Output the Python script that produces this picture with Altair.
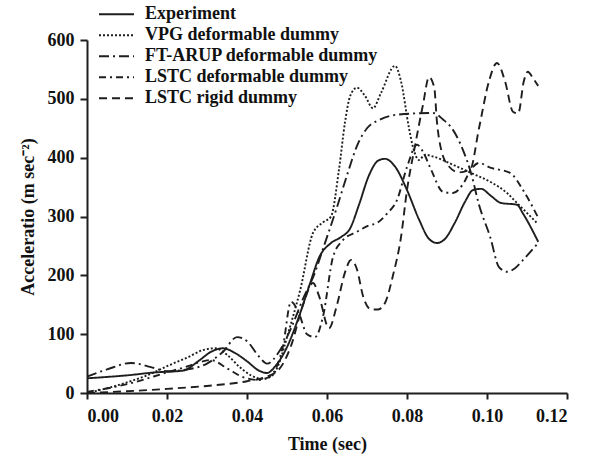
import altair as alt
import pandas as pd

names = ["Experiment", "VPG deformable dummy", "FT-ARUP deformable dummy",
         "LSTC deformable dummy", "LSTC rigid dummy"]

exp_t = [0, 0.01, 0.017, 0.024, 0.028, 0.031, 0.034, 0.037, 0.040, 0.043, 0.045, 0.047, 0.05,
         0.053, 0.0558, 0.058, 0.061, 0.0635, 0.0658, 0.068, 0.0705, 0.0728, 0.0745, 0.077,
         0.08, 0.083, 0.0855, 0.0875, 0.0895, 0.092, 0.0945, 0.0965, 0.0985, 0.101, 0.1035,
         0.1075, 0.109, 0.1128]
exp_v = [25, 30, 35, 38, 55, 70, 76, 68, 54, 38, 34, 45, 78, 130, 187, 230, 255, 265, 280,
         320, 370, 395, 398, 385, 345, 295, 262, 255, 262, 290, 325, 345, 347, 335, 323,
         320, 305, 257]

vpg_t = [0, 0.005, 0.01, 0.015, 0.0208, 0.025, 0.029, 0.032, 0.035, 0.038, 0.041, 0.044,
         0.046, 0.048, 0.05, 0.0533, 0.0565, 0.059, 0.061, 0.063, 0.0645, 0.0658, 0.0675,
         0.0695, 0.0715, 0.0735, 0.077, 0.0785, 0.0805, 0.0815, 0.083, 0.0845, 0.0865,
         0.0915, 0.096, 0.1008, 0.105, 0.1075, 0.1125]
vpg_v = [0, 8, 18, 30, 48, 60, 73, 76, 65, 45, 30, 24, 28, 50, 95, 175, 272, 290, 300, 380,
         460, 505, 519, 505, 484, 510, 556, 530, 450, 418, 396, 405, 402, 388, 374, 359, 340,
         323, 289]

ftar_t = [0, 0.005, 0.011, 0.016, 0.02, 0.025, 0.03, 0.034, 0.0375, 0.04, 0.043, 0.045,
          0.048, 0.051, 0.054, 0.057, 0.059, 0.0625, 0.065, 0.0675, 0.07, 0.073, 0.0775,
          0.0865, 0.089, 0.091, 0.094, 0.096, 0.098, 0.1008, 0.103, 0.105, 0.107, 0.109,
          0.1128]
ftar_v = [28, 40, 51, 44, 37, 40, 50, 70, 95, 88, 62, 50, 70, 110, 160, 205, 245, 316, 370,
          420, 450, 464, 473, 476, 465, 452, 413, 374, 320, 265, 214, 206, 212, 226, 255]

lstcd_t = [0, 0.01, 0.02, 0.025, 0.028, 0.031, 0.035, 0.039, 0.043, 0.046, 0.049, 0.051,
           0.053, 0.055, 0.057, 0.059, 0.0615, 0.064, 0.0675, 0.0705, 0.0725, 0.075, 0.0775,
           0.08, 0.0825, 0.084, 0.086, 0.089, 0.0915, 0.094, 0.096, 0.098, 0.1008, 0.1058,
           0.109, 0.1128]
lstcd_v = [2, 15, 35, 45, 52, 56, 42, 27, 22, 30, 80, 155, 135, 100, 95, 130, 231, 260, 274,
           285, 289, 305, 328, 384, 422, 410, 380, 342, 340, 355, 380, 391, 383, 374, 345, 298]

rig_t = [0, 0.01, 0.02, 0.03, 0.04, 0.045, 0.048, 0.051, 0.054, 0.0565, 0.058, 0.0605,
         0.0625, 0.0645, 0.066, 0.0675, 0.069, 0.071, 0.0728, 0.0745, 0.0765, 0.0785, 0.08,
         0.082, 0.084, 0.0855, 0.0868, 0.0875, 0.0885, 0.0905, 0.093, 0.0958, 0.098, 0.1005,
         0.1025, 0.1045, 0.1065, 0.1078, 0.1092, 0.1102, 0.1115, 0.1128]
rig_v = [0, 3, 7, 12, 20, 28, 40, 80, 150, 187, 165, 110, 150, 205, 226, 210, 165, 142, 142,
         153, 200, 265, 345, 420, 490, 537, 520, 460, 415, 385, 375, 380, 450, 530, 561, 530,
         478, 475, 530, 546, 535, 522]

series = [(exp_t, exp_v), (vpg_t, vpg_v), (ftar_t, ftar_v), (lstcd_t, lstcd_v), (rig_t, rig_v)]
rows = []
for i, (name, (ts, vs)) in enumerate(zip(names, series)):
    for t, v in zip(ts, vs):
        rows.append({"series": name, "order": i, "t": t, "v": v})
df = pd.DataFrame(rows)

dashes = [[1, 0], [2, 2], [10, 4, 2, 4], [7, 4, 2, 4], [8, 5]]
FONT = "Liberation Serif"
FS = 18

chart = alt.Chart(df).mark_line(strokeWidth=1.9, color="#1e1e1e", interpolate="monotone").encode(
    x=alt.X("t:Q", title="Time (sec)",
            scale=alt.Scale(domain=[0, 0.12], nice=False),
            axis=alt.Axis(values=[0, 0.02, 0.04, 0.06, 0.08, 0.1, 0.12], format=".2f",
                          grid=False, domainColor="#1e1e1e", tickColor="#1e1e1e", domainWidth=2,
                          tickWidth=2, tickSize=6, labelPadding=8, titlePadding=10)),
    y=alt.Y("v:Q", title="Acceleratio (m sec⁻²)",
            scale=alt.Scale(domain=[0, 600], nice=False),
            axis=alt.Axis(values=[0, 100, 200, 300, 400, 500, 600], grid=False,
                          domainColor="#1e1e1e", tickColor="#1e1e1e", domainWidth=2,
                          tickWidth=2, tickSize=7, labelPadding=6, titlePadding=10)),
    strokeDash=alt.StrokeDash("series:N", sort=names,
                              scale=alt.Scale(domain=names, range=dashes),
                              legend=alt.Legend(title=None, orient="none", legendX=11,
                                                legendY=-36, symbolType="stroke",
                                                symbolSize=1225, symbolStrokeWidth=2,
                                                symbolStrokeColor="#1e1e1e",
                                                labelFontSize=FS, labelFont=FONT,
                                                labelFontWeight="bold", labelColor="#111",
                                                labelLimit=0, clipHeight=20.5,
                                                labelOffset=10, rowPadding=0, padding=0)),
    detail="series:N",
    order="t:Q",
).properties(
    width=480, height=353,
    autosize=alt.AutoSizeParams(type="none"),
    padding={"left": 87, "top": 40, "right": 31, "bottom": 71},
).configure_view(stroke=None).configure_axis(
    labelFont=FONT, titleFont=FONT, labelFontSize=FS, titleFontSize=FS,
    labelFontWeight="bold", titleFontWeight="bold", labelColor="#111", titleColor="#111"
)

chart.save("out.html", embed_options={"renderer": "svg", "actions": False})
